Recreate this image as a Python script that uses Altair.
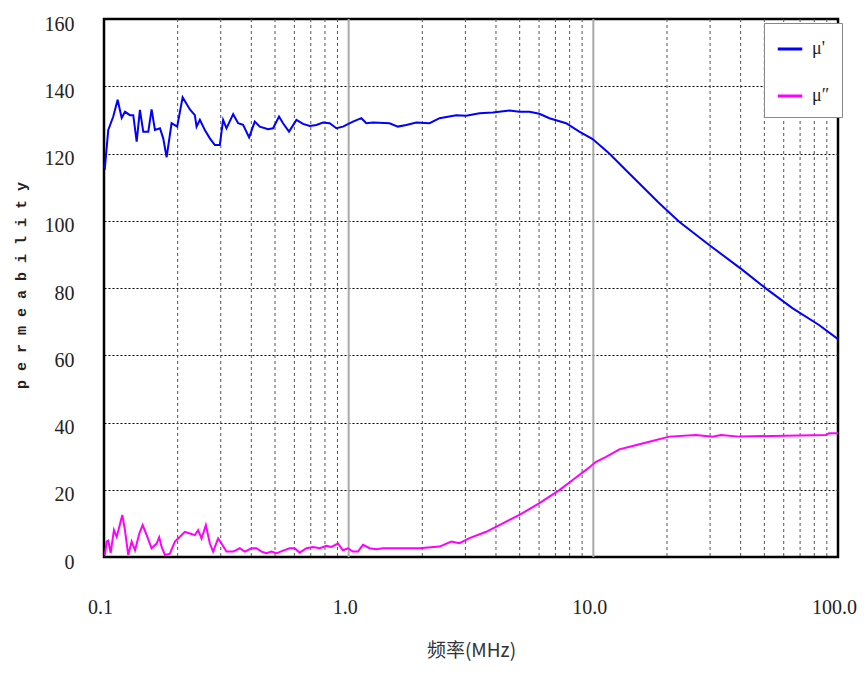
import altair as alt
import pandas as pd

# μ' (blue) — frequency in MHz, permeability
mu1_freq = [0.100, 0.1009, 0.1041, 0.1091, 0.1137, 0.1181, 0.1218, 0.1277, 0.1317, 0.1360,
            0.1402, 0.1447, 0.1517, 0.1565, 0.1615, 0.1693, 0.1746, 0.1803, 0.1889, 0.1991,
            0.2096, 0.2244, 0.2351, 0.2390, 0.2465, 0.2583, 0.2708, 0.2838, 0.2974, 0.3068,
            0.3167, 0.3372, 0.3534, 0.3703, 0.3918, 0.4133, 0.4332, 0.4684, 0.4909, 0.5193,
            0.5392, 0.5705, 0.6116, 0.6509, 0.6931, 0.7382, 0.7854, 0.8364, 0.8909, 0.9478,
            1.041, 1.127, 1.181, 1.257, 1.470, 1.589, 1.720, 1.889, 2.141, 2.352,
            2.752, 3.023, 3.425, 3.882, 4.541, 4.989, 5.481, 6.020, 6.613, 7.737,
            8.767, 9.934, 11.62, 13.60, 18.60, 22.44, 29.75, 40.68, 50.68, 65.10,
            83.64, 100.0]
mu1_val = [116.6, 116.0, 127.0, 131.0, 136.0, 130.6, 132.4, 131.4, 131.4, 123.5,
           133.0, 126.5, 126.5, 133.1, 127.0, 127.5, 124.5, 118.9, 129.0, 128.0,
           136.7, 133.1, 131.4, 128.0, 130.0, 127.0, 124.5, 122.5, 122.5, 130.0,
           127.5, 131.7, 129.0, 128.5, 124.8, 129.5, 128.0, 127.2, 127.5, 131.0,
           129.0, 126.5, 130.0, 128.8, 128.2, 128.5, 129.2, 129.0, 127.5, 128.0,
           129.5, 130.5, 129.0, 129.2, 129.0, 128.0, 128.5, 129.2, 129.0, 130.5,
           131.4, 131.2, 132.0, 132.2, 132.8, 132.4, 132.4, 131.8, 130.5, 129.0,
           126.5, 124.3, 120.0, 115.0, 105.2, 99.7, 92.8, 85.4, 79.9, 74.0,
           69.0, 64.8]

# μ" (magenta)
mu2_freq = [0.1009, 0.1025, 0.1041, 0.1065, 0.1098, 0.1127, 0.1155, 0.1188, 0.1218, 0.1256,
            0.1297, 0.1339, 0.1394, 0.1439, 0.1494, 0.1565, 0.1641, 0.1681, 0.1720, 0.1774,
            0.1859, 0.1949, 0.2043, 0.2141, 0.2244, 0.2351, 0.2426, 0.2504, 0.2608, 0.2708,
            0.2793, 0.2927, 0.3022, 0.3167, 0.3372, 0.3590, 0.3762, 0.4009, 0.4201, 0.4403,
            0.4614, 0.4836, 0.5068, 0.5392, 0.5743, 0.6019, 0.6310, 0.6721, 0.7149, 0.7614,
            0.8110, 0.8500, 0.9043, 0.9478, 0.9934, 1.041, 1.091, 1.144, 1.218, 1.297,
            1.380, 1.949, 2.352, 2.626, 2.838, 3.118, 3.648, 4.264, 4.989, 6.020,
            7.264, 8.233, 9.337, 10.26, 11.27, 12.77, 14.47, 16.93, 20.42, 26.26,
            30.69, 33.20, 39.44, 53.94, 89.08, 91.9, 100.0]
mu2_val = [0.6, 4.6, 4.9, 1.2, 8.0, 6.0, 9.0, 12.5, 8.0, 0.6,
           4.6, 2.0, 7.0, 9.5, 6.5, 2.6, 4.0, 5.9, 3.0, 0.6,
           1.0, 4.6, 6.0, 7.5, 7.0, 6.5, 8.0, 5.5, 9.5, 4.0,
           1.6, 5.5, 4.0, 1.6, 1.6, 2.6, 1.6, 2.6, 2.6, 1.6,
           1.1, 1.6, 1.1, 1.9, 2.6, 2.6, 1.3, 2.6, 3.0, 2.6,
           3.3, 3.0, 4.0, 2.0, 2.6, 1.6, 1.6, 3.6, 2.6, 2.3,
           2.6, 2.6, 3.1, 4.6, 4.1, 5.6, 7.5, 10.0, 12.5, 16.0,
           19.9, 22.9, 25.9, 28.3, 29.8, 32.0, 33.0, 34.3, 35.8, 36.3,
           35.8, 36.3, 35.8, 36.0, 36.3, 36.8, 36.8]

series_names = ["μ'", "μ″"]
series_colors = ["#0000ff", "#ff00ff"]

decades = [1, 10]
minor_ticks = [0.2, 0.3, 0.4, 0.5, 0.6, 0.7, 0.8, 0.9,
               2, 3, 4, 5, 6, 7, 8, 9,
               20, 30, 40, 50, 60, 70, 80, 90]
x_tick_values = [0.1, 1, 10, 100]
y_tick_values = [0, 20, 40, 60, 80, 100, 120, 140, 160]

df = pd.concat([
    pd.DataFrame({"freq": mu1_freq, "perm": mu1_val, "series": series_names[0]}),
    pd.DataFrame({"freq": mu2_freq, "perm": mu2_val, "series": series_names[1]}),
], ignore_index=True)
df["order"] = df.index

xscale = alt.Scale(type="log", domain=[0.1, 100], nice=False)
yscale = alt.Scale(domain=[0, 160], nice=False)

minor = alt.Chart(pd.DataFrame({"f": minor_ticks})).mark_rule(
    color="#555", strokeWidth=1, strokeDash=[3, 3]
).encode(x=alt.X("f:Q", scale=xscale))

major = alt.Chart(pd.DataFrame({"f": decades})).mark_rule(
    color="#a8a8a8", strokeWidth=2
).encode(x=alt.X("f:Q", scale=xscale))

lines = alt.Chart(df).mark_line(strokeWidth=2).encode(
    x=alt.X("freq:Q", scale=xscale,
            axis=alt.Axis(values=x_tick_values, grid=False, ticks=False, tickSize=0,
                          domain=False,
                          labelExpr="datum.value < 1 ? '0.1' : format(datum.value, '.1f')",
                          labelFont="Liberation Serif", labelFontSize=20,
                          labelColor="#222", labelPadding=50, labelBaseline="middle",
                          labelOffset=-4, labelFlush=False,
                          title="频率(MHz)", titleFont="Noto Sans CJK SC",
                          titleFontSize=19, titleFontWeight="normal", titleColor="#333",
                          titleY=93, titleBaseline="middle")),
    y=alt.Y("perm:Q", scale=yscale,
            axis=alt.Axis(values=y_tick_values, grid=True, gridColor="#000",
                          gridDash=[2, 2], gridWidth=1, ticks=False, tickSize=0,
                          domain=False, labelFont="Liberation Serif", labelFontSize=20,
                          labelColor="#222", labelPadding=30, labelOffset=5,
                          labelFlush=False,
                          title="p e r m e a b i l i t y", titleFont="Liberation Mono",
                          titleFontSize=15, titleFontWeight="bold", titleColor="#222",
                          titleAngle=270, titleX=-84, titleY=266,
                          titleAlign="center", titleBaseline="middle")),
    color=alt.Color("series:N",
                    scale=alt.Scale(domain=series_names, range=series_colors),
                    legend=alt.Legend(orient="none", legendX=660, legendY=4, title=None,
                                      symbolType="stroke", symbolStrokeWidth=3,
                                      symbolSize=600, labelFont="Liberation Serif",
                                      labelFontSize=18, labelColor="#222",
                                      fillColor="white", strokeColor="#888",
                                      padding=12, rowPadding=24, labelOffset=8)),
    order="order:Q",
)

chart = alt.layer(minor, major, lines).properties(
    width=734, height=538,
    autosize=alt.AutoSizeParams(type="none"),
    padding={"left": 96, "top": 11, "right": 20, "bottom": 108},
).configure_view(stroke="#000", strokeWidth=2.5)

chart.save("out.html", embed_options={"renderer": "svg", "actions": False})
